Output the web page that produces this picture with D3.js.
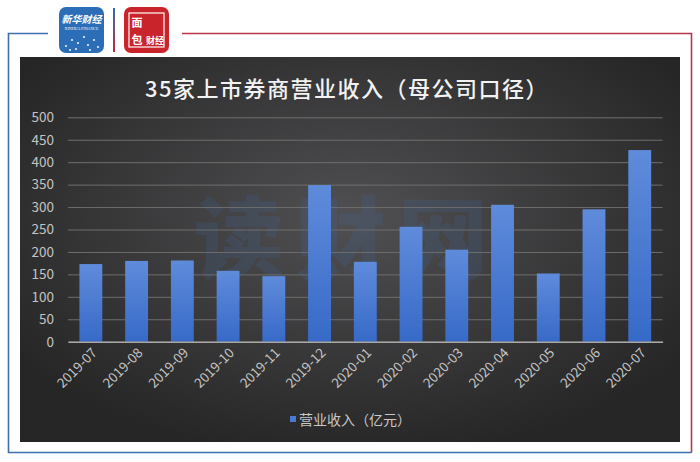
<!DOCTYPE html>
<html>
<head>
<meta charset="utf-8">
<script src="https://cdn.jsdelivr.net/npm/d3@7/dist/d3.min.js"></script>
<style>
html,body{margin:0;padding:0;background:#fff;}
svg{display:block;}
</style>
</head>
<body>
<svg id="chart" width="700" height="462"></svg>
<script>
const categories = ["2019-07","2019-08","2019-09","2019-10","2019-11","2019-12","2020-01","2020-02","2020-03","2020-04","2020-05","2020-06","2020-07"];
const revenue = [173,180,181,158,146,349,178,256,205,305,152,295,427];
const yTicks = [0,50,100,150,200,250,300,350,400,450,500];
const titleText = "35家上市券商营业收入（母公司口径）";
const legendText = "营业收入（亿元）";
const watermarkText = "读财网";

const svg = d3.select("#chart");
const defs = svg.append("defs");
const font = "'Noto Sans CJK SC','Noto Sans',sans-serif";

const bg = defs.append("radialGradient").attr("id","bg").attr("cx","50%").attr("cy","42%").attr("r","62%");
bg.append("stop").attr("offset","0%").attr("stop-color","#505052");
bg.append("stop").attr("offset","100%").attr("stop-color","#262627");

const barG = defs.append("linearGradient").attr("id","barG").attr("x1","0").attr("y1","0").attr("x2","0").attr("y2","1");
barG.append("stop").attr("offset","0%").attr("stop-color","#5f8bdb");
barG.append("stop").attr("offset","100%").attr("stop-color","#376ac8");

const divG = defs.append("linearGradient").attr("id","divG").attr("x1","0").attr("y1","0").attr("x2","0").attr("y2","1");
divG.append("stop").attr("offset","0%").attr("stop-color","#2f6db5");
divG.append("stop").attr("offset","100%").attr("stop-color","#c4283a");

// frame
svg.append("path").attr("d","M48,33.5H8.5V452.5H691.5").attr("fill","none").attr("stroke","#3f6fae").attr("stroke-width",1.6);
svg.append("path").attr("d","M182,33.5H691.5V452.5").attr("fill","none").attr("stroke","#b8354a").attr("stroke-width",1.6);

// logos
const lg1 = svg.append("g");
lg1.append("rect").attr("x",59).attr("y",7).attr("width",45).attr("height",46).attr("rx",7).attr("fill","#2b6db6");
lg1.append("text").attr("x",81.5).attr("y",23).attr("text-anchor","middle").attr("font-family",font).attr("font-size",10).attr("font-style","italic").attr("font-weight",700).attr("fill","#fff").text("新华财经");
lg1.append("text").attr("x",81.5).attr("y",30).attr("text-anchor","middle").attr("font-family","'Liberation Serif',serif").attr("font-size",4).attr("fill","#fff").text("XINHUA FINANCE");
[[66,46],[72,40],[78,43],[84,37],[88,45],[94,40],[98,47],[76,49],[90,50],[70,50]].forEach(p=>{
  lg1.append("circle").attr("cx",p[0]).attr("cy",p[1]).attr("r",1.1).attr("fill","#e8f0ff");
});
svg.append("rect").attr("x",113).attr("y",8).attr("width",2).attr("height",44).attr("fill","url(#divG)");
const lg2 = svg.append("g");
lg2.append("rect").attr("x",124).attr("y",7).attr("width",45).attr("height",46).attr("rx",7).attr("fill","#c9242c");
lg2.append("rect").attr("x",129).attr("y",13).attr("width",35).attr("height",34).attr("fill","none").attr("stroke","#fff").attr("stroke-width",1.2);
lg2.append("text").attr("x",137).attr("y",27).attr("text-anchor","middle").attr("font-family",font).attr("font-size",11).attr("font-weight",700).attr("fill","#fff").text("面");
lg2.append("text").attr("x",137).attr("y",44).attr("text-anchor","middle").attr("font-family",font).attr("font-size",11).attr("font-weight",700).attr("fill","#fff").text("包");
lg2.append("text").attr("x",155).attr("y",44).attr("text-anchor","middle").attr("font-family",font).attr("font-size",9).attr("font-weight",700).attr("fill","#fff").text("财经");

// chart background
svg.append("rect").attr("x",20).attr("y",57).attr("width",660).attr("height",385).attr("fill","url(#bg)");

// watermark
svg.append("text").attr("x",347).attr("y",272).attr("text-anchor","middle").attr("font-family",font).attr("font-size",90).attr("font-weight",900)
  .attr("letter-spacing",12).attr("fill","#3d679b").attr("opacity",0.2).text(watermarkText);

// scales
const x = d3.scaleBand().domain(categories).range([68,662.6]).paddingInner(0.5).paddingOuter(0.25);
const y = d3.scaleLinear().domain([0,500]).range([341.7,117.3]);

// grid
const yAxis = d3.axisLeft(y).tickValues(yTicks).tickSize(-(662.6-68)).tickPadding(15).tickFormat(d3.format("d"));
const ga = svg.append("g").attr("transform","translate(68,0)").call(yAxis);
ga.select(".domain").remove();
ga.selectAll(".tick line").attr("stroke","#6e6e6e").attr("stroke-width",1);
ga.selectAll(".tick text").attr("font-family",font).attr("font-size",13.5).attr("fill","#c4c4c4").attr("x",-14);

// bars
svg.append("g").selectAll("rect").data(revenue).join("rect")
  .attr("x",(d,i)=>x(categories[i]))
  .attr("y",d=>y(d))
  .attr("width",x.bandwidth())
  .attr("height",d=>y(0)-y(d))
  .attr("fill","url(#barG)");

// x axis
const xAxis = d3.axisBottom(x).tickSize(0).tickPadding(0);
const gx = svg.append("g").attr("transform",`translate(0,${y(0)})`).call(xAxis);
gx.select(".domain").attr("stroke","#a8a8a8").attr("stroke-width",1.6);
gx.selectAll(".tick text")
  .attr("font-family",font).attr("font-size",13.5).attr("fill","#c4c4c4")
  .attr("text-anchor","end").attr("dy","0")
  .attr("transform","translate(7,12) rotate(-45)");

// title
svg.append("text").attr("x",347).attr("y",97).attr("text-anchor","middle")
  .attr("font-family",font).attr("font-size",22).attr("font-weight",500).attr("letter-spacing",1.5)
  .attr("fill","#f2f2f2").text(titleText);

// legend
svg.append("rect").attr("x",290).attr("y",416).attr("width",6).attr("height",6).attr("fill","#4a7ad4");
svg.append("text").attr("x",299).attr("y",424.5).attr("font-family",font).attr("font-size",14).attr("fill","#c8c8c8").text(legendText);
</script>
</body>
</html>
